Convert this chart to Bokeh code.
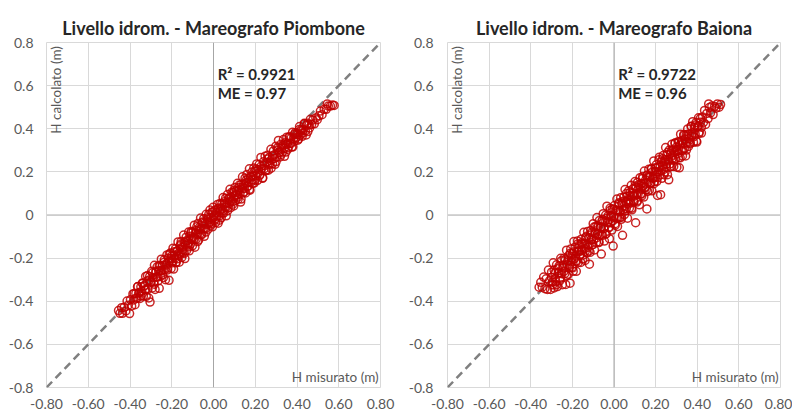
from math import pi
from bokeh.plotting import figure
from bokeh.layouts import row
from bokeh.models import Range1d, FixedTicker, Span, Label
from bokeh.embed import file_html
from bokeh.resources import INLINE

FONT = "Lato"

titles = ["Livello idrom. - Mareografo Piombone", "Livello idrom. - Mareografo Baiona"]
r2_texts = ["R\u00b2 = 0.9921", "R\u00b2 = 0.9722"]
me_texts = ["ME = 0.97", "ME = 0.96"]
x_axis_title = "H misurato (m)"
y_axis_title = "H calcolato (m)"
ticks = [-0.8, -0.6, -0.4, -0.2, 0.0, 0.2, 0.4, 0.6, 0.8]
x_tick_labels = ["-0.80", "-0.60", "-0.40", "-0.20", "0.00", "0.20", "0.40", "0.60", "0.80"]
y_tick_labels = ["-0.8", "-0.6", "-0.4", "-0.2", "0", "0.2", "0.4", "0.6", "0.8"]
identity_line = [-0.8, 0.8]

piombone_x = [
    -0.455, -0.448, -0.440, -0.436, -0.428, -0.420, -0.414, -0.408, -0.402, -0.398,
    -0.392, -0.386, -0.382, -0.376, -0.372, -0.366, -0.362, -0.358, -0.352, -0.348,
    -0.344, -0.340, -0.336, -0.332, -0.328, -0.325, -0.322, -0.318, -0.314, -0.310,
    -0.306, -0.304, -0.300, -0.296, -0.293, -0.290, -0.286, -0.283, -0.280, -0.276,
    -0.273, -0.270, -0.266, -0.263, -0.260, -0.256, -0.253, -0.250, -0.247, -0.244,
    -0.240, -0.236, -0.233, -0.230, -0.226, -0.223, -0.220, -0.216, -0.213, -0.210,
    -0.206, -0.203,
    -0.200, -0.197, -0.194, -0.191, -0.188, -0.185, -0.182, -0.179, -0.176, -0.173,
    -0.170, -0.167, -0.164, -0.161, -0.158, -0.155, -0.152, -0.149, -0.146, -0.143,
    -0.140, -0.137, -0.134, -0.131, -0.128, -0.125, -0.122, -0.119, -0.116, -0.113,
    -0.110, -0.107, -0.104, -0.101, -0.098, -0.095, -0.092, -0.089, -0.086, -0.083,
    -0.080, -0.077, -0.074, -0.071, -0.068, -0.065, -0.062, -0.059, -0.056, -0.053,
    -0.050, -0.047, -0.044, -0.041, -0.038, -0.035, -0.032, -0.029, -0.026, -0.023,
    -0.020, -0.017, -0.014, -0.011, -0.008, -0.005, -0.002, 0.001,
    0.004, 0.007, 0.010, 0.013, 0.016, 0.019, 0.022, 0.025, 0.028, 0.031,
    0.034, 0.037, 0.040, 0.043, 0.046, 0.049, 0.052, 0.055, 0.058, 0.061,
    0.064, 0.067, 0.070, 0.073, 0.076, 0.079, 0.082, 0.085, 0.088, 0.091,
    0.094, 0.097, 0.100, 0.103, 0.106, 0.109, 0.112, 0.115, 0.118, 0.121,
    0.124, 0.127, 0.130, 0.133, 0.136, 0.139, 0.142, 0.145, 0.148, 0.151,
    0.154, 0.157, 0.160, 0.163, 0.166, 0.169, 0.172, 0.175, 0.178, 0.181,
    0.184, 0.187, 0.190, 0.193, 0.196, 0.199,
    0.203, 0.207, 0.211, 0.215, 0.219, 0.223, 0.227, 0.231, 0.235, 0.239,
    0.243, 0.247, 0.251, 0.255, 0.259, 0.263, 0.267, 0.271, 0.275, 0.279,
    0.283, 0.287, 0.291, 0.295, 0.299, 0.303, 0.307, 0.311, 0.315, 0.319,
    0.323, 0.327, 0.331, 0.335, 0.339, 0.343, 0.347, 0.351, 0.355, 0.359,
    0.363, 0.367, 0.371, 0.375, 0.379, 0.383, 0.387, 0.391, 0.395, 0.399,
    0.403, 0.407, 0.411, 0.415, 0.420, 0.425, 0.430, 0.435, 0.440, 0.446,
    0.452, 0.458, 0.464, 0.470, 0.476, 0.483, 0.490, 0.497, 0.505, 0.512,
    0.520, 0.530, 0.540, 0.550, 0.560, 0.570, 0.578, 0.545,
]
piombone_y = [
    -0.443, -0.456, -0.430, -0.456, -0.428, -0.445, -0.399, -0.418, -0.457, -0.393,
    -0.422, -0.366, -0.394, -0.416, -0.364, -0.386, -0.332, -0.363, -0.387, -0.333,
    -0.354, -0.315, -0.376, -0.327, -0.348, -0.285, -0.377, -0.306, -0.344, -0.385,
    -0.286, -0.404, -0.308, -0.261, -0.338, -0.290, -0.311, -0.233, -0.345, -0.261,
    -0.288, -0.240, -0.306, -0.258, -0.340, -0.234, -0.283, -0.205, -0.257, -0.234,
    -0.290, -0.208, -0.253, -0.300, -0.226, -0.185, -0.255, -0.201, -0.303, -0.215,
    -0.176, -0.248,
    -0.190, -0.222, -0.154, -0.251, -0.188, -0.200, -0.157, -0.219, -0.168, -0.203,
    -0.125, -0.177, -0.219, -0.143, -0.178, -0.123, -0.197, -0.149, -0.174, -0.093,
    -0.128, -0.202, -0.139, -0.103, -0.163, -0.119, -0.140, -0.079, -0.166, -0.098,
    -0.135, -0.077, -0.112, -0.143, -0.078, -0.110, -0.047, -0.149, -0.084, -0.113,
    -0.055, -0.089, -0.039, -0.116, -0.058, -0.087, -0.014, -0.064, -0.091, -0.033,
    -0.065, -0.017, -0.099, -0.036, -0.063, 0.003, -0.042, -0.014, -0.066, 0.002,
    -0.038, 0.023, -0.014, -0.041, 0.012, -0.055, 0.036, -0.011,
    -0.026, 0.022, -0.035, 0.013, -0.004, 0.049, -0.038, 0.033, -0.004, 0.053,
    0.024, -0.013, 0.052, 0.018, 0.081, 0.009, 0.052, 0.037, 0.078, -0.004,
    0.056, 0.095, 0.035, 0.078, 0.054, 0.119, 0.034, 0.083, 0.106, 0.061,
    0.104, 0.042, 0.088, 0.128, 0.068, 0.111, 0.092, 0.147, 0.073, 0.116,
    0.139, 0.099, 0.060, 0.141, 0.121, 0.177, 0.102, 0.145, 0.123, 0.171,
    0.102, 0.149, 0.188, 0.131, 0.171, 0.151, 0.214, 0.115, 0.178, 0.153,
    0.199, 0.145, 0.180, 0.218, 0.161, 0.204,
    0.183, 0.237, 0.161, 0.210, 0.234, 0.188, 0.267, 0.216, 0.170, 0.247,
    0.215, 0.272, 0.209, 0.245, 0.277, 0.208, 0.267, 0.241, 0.305, 0.259,
    0.238, 0.297, 0.279, 0.235, 0.319, 0.268, 0.302, 0.346, 0.290, 0.269,
    0.328, 0.309, 0.291, 0.350, 0.309, 0.335, 0.292, 0.361, 0.333, 0.314,
    0.363, 0.332, 0.356, 0.315, 0.384, 0.355, 0.342, 0.381, 0.357, 0.379,
    0.373, 0.352, 0.396, 0.370, 0.395, 0.365, 0.395, 0.425, 0.390, 0.416,
    0.387, 0.418, 0.444, 0.420, 0.441, 0.423, 0.450, 0.442, 0.460, 0.482,
    0.465, 0.490, 0.490, 0.505, 0.505, 0.510, 0.508, 0.515,
]
piombone_core_x = [
    -0.380, -0.372, -0.364, -0.356, -0.348, -0.340, -0.332, -0.324, -0.316, -0.308,
    -0.300, -0.292, -0.284, -0.276, -0.268, -0.260, -0.252, -0.244, -0.236, -0.228,
    -0.220, -0.212, -0.204, -0.196, -0.188, -0.180, -0.172, -0.164, -0.156, -0.148,
    -0.140, -0.132, -0.124, -0.116, -0.108, -0.100, -0.092, -0.084, -0.076, -0.068,
    -0.060, -0.052, -0.044, -0.036, -0.028, -0.020, -0.012, -0.004, 0.004, 0.012,
    0.020, 0.028, 0.036, 0.044, 0.052, 0.060, 0.068, 0.076, 0.084, 0.092,
    0.100, 0.108, 0.116, 0.124, 0.132, 0.140, 0.148, 0.156, 0.164, 0.172,
    0.180, 0.188, 0.196, 0.204, 0.212, 0.220, 0.228, 0.236, 0.244, 0.252,
    0.260, 0.268, 0.276, 0.284, 0.292, 0.300, 0.308, 0.316, 0.324, 0.332,
    0.340, 0.348, 0.356, 0.364, 0.372, 0.380, 0.388, 0.396, 0.404, 0.412,
    0.420, 0.428, 0.436, 0.444, 0.452, 0.460,
]
piombone_core_y = [
    -0.364, -0.386, -0.333, -0.359, -0.376, -0.318, -0.330, -0.345, -0.281, -0.302,
    -0.312, -0.268, -0.321, -0.265, -0.288, -0.234, -0.260, -0.277, -0.219, -0.232,
    -0.246, -0.182, -0.203, -0.213, -0.170, -0.222, -0.166, -0.189, -0.135, -0.162,
    -0.178, -0.120, -0.133, -0.147, -0.084, -0.104, -0.114, -0.071, -0.123, -0.068,
    -0.090, -0.036, -0.063, -0.079, -0.022, -0.034, -0.048, 0.015, -0.005, -0.016,
    0.028, -0.024, 0.031, 0.009, 0.062, 0.036, 0.020, 0.077, 0.065, 0.050,
    0.114, 0.094, 0.083, 0.127, 0.074, 0.130, 0.108, 0.161, 0.135, 0.118,
    0.176, 0.164, 0.149, 0.213, 0.192, 0.182, 0.226, 0.173, 0.229, 0.206,
    0.260, 0.234, 0.217, 0.275, 0.262, 0.248, 0.312, 0.291, 0.281, 0.324,
    0.272, 0.328, 0.305, 0.359, 0.332, 0.316, 0.374, 0.361, 0.347, 0.410,
    0.390, 0.380, 0.423, 0.371, 0.426, 0.404,
]

baiona_x = [
    -0.360, -0.352, -0.345, -0.338, -0.332, -0.326, -0.320, -0.315, -0.310, -0.305,
    -0.300, -0.296, -0.292, -0.288, -0.284, -0.280, -0.276, -0.272, -0.268, -0.264,
    -0.260, -0.256, -0.252, -0.248, -0.244, -0.240, -0.236, -0.232, -0.228, -0.224,
    -0.220, -0.217, -0.214, -0.211, -0.208, -0.205, -0.202, -0.199, -0.196, -0.193,
    -0.190, -0.187, -0.184, -0.181, -0.178, -0.175, -0.172, -0.169, -0.166, -0.163,
    -0.160, -0.157, -0.154, -0.151, -0.148, -0.145, -0.142, -0.139, -0.136, -0.133,
    -0.130, -0.127, -0.124, -0.121, -0.118, -0.115, -0.112, -0.109, -0.106, -0.103,
    -0.100, -0.097, -0.094, -0.091, -0.088, -0.085, -0.082, -0.079, -0.076, -0.073,
    -0.070, -0.067, -0.064, -0.061, -0.058, -0.055, -0.052, -0.049, -0.046, -0.043,
    -0.040, -0.037, -0.034, -0.031, -0.028, -0.025, -0.022, -0.019, -0.016, -0.013,
    -0.010, -0.007, -0.004, -0.001,
    0.002, 0.005, 0.008, 0.011, 0.014, 0.017, 0.020, 0.023, 0.026, 0.029,
    0.032, 0.035, 0.038, 0.041, 0.044, 0.047, 0.050, 0.053, 0.056, 0.059,
    0.062, 0.065, 0.068, 0.071, 0.074, 0.077, 0.080, 0.083, 0.086, 0.089,
    0.092, 0.095, 0.098, 0.101, 0.104, 0.107, 0.110, 0.113, 0.116, 0.119,
    0.122, 0.125, 0.128, 0.131, 0.134, 0.137, 0.140, 0.143, 0.146, 0.149,
    0.152, 0.155, 0.158, 0.161, 0.164, 0.167, 0.170, 0.173, 0.176, 0.179,
    0.182, 0.185, 0.188, 0.191, 0.194, 0.197, 0.200,
    0.203, 0.206, 0.209, 0.212, 0.215, 0.218, 0.221, 0.224, 0.227, 0.230,
    0.233, 0.236, 0.239, 0.242, 0.245, 0.248, 0.251, 0.254, 0.257, 0.260,
    0.263, 0.266, 0.269, 0.272, 0.275, 0.278, 0.281, 0.284, 0.287, 0.290,
    0.293, 0.296, 0.299, 0.302, 0.305, 0.308, 0.311, 0.314, 0.317, 0.320,
    0.323, 0.326, 0.329, 0.332, 0.335, 0.338, 0.341, 0.344, 0.347, 0.350,
    0.354, 0.358,
    0.362, 0.366, 0.370, 0.374, 0.378, 0.382, 0.386, 0.390, 0.394, 0.398,
    0.402, 0.406, 0.410, 0.415, 0.420, 0.425, 0.430, 0.435, 0.440, 0.446,
    0.452, 0.458, 0.464, 0.470, 0.476, 0.483, 0.490, 0.497, 0.505, 0.512,
    0.455,
]
baiona_y = [
    -0.335, -0.312, -0.335, -0.288, -0.342, -0.296, -0.345, -0.255, -0.305, -0.345,
    -0.265, -0.311, -0.222, -0.338, -0.269, -0.310, -0.231, -0.332, -0.268, -0.236,
    -0.305, -0.201, -0.272, -0.323, -0.232, -0.200, -0.271, -0.322, -0.163, -0.229,
    -0.275, -0.187, -0.234, -0.316, -0.158, -0.200, -0.242, -0.177, -0.261, -0.123,
    -0.202, -0.149, -0.214, -0.261, -0.168, -0.120, -0.220, -0.169, -0.138, -0.185,
    -0.220, -0.112, -0.162, -0.133, -0.186, -0.080, -0.157, -0.211, -0.104, -0.131,
    -0.175, -0.077, -0.149, -0.106, -0.228, -0.173, -0.072, -0.114, -0.081, -0.138,
    -0.040, -0.115, -0.162, -0.081, -0.053, -0.127, -0.012, -0.089, -0.056, -0.128,
    -0.025, -0.095, -0.059, -0.181, -0.028, -0.095, 0.006, -0.064, -0.121, -0.028,
    0.000, -0.087, 0.041, -0.033, -0.003, -0.057, -0.110, 0.031, -0.036, -0.003,
    -0.070, 0.028, -0.144, -0.009,
    0.044, -0.040, 0.020, -0.014, 0.074, -0.053, 0.020, 0.051, -0.012, 0.017,
    0.080, -0.020, 0.056, -0.094, 0.024, 0.082, 0.002, 0.118, 0.061, 0.029,
    0.087, -0.015, 0.060, 0.113, 0.032, 0.089, 0.058, 0.138, 0.024, 0.089,
    0.122, 0.060, 0.088, 0.155, -0.036, 0.127, 0.060, 0.151, 0.098, 0.127,
    0.047, 0.173, 0.098, 0.146, 0.089, 0.169, 0.135, 0.083, 0.204, 0.127,
    0.162, 0.117, 0.028, 0.186, 0.152, 0.212, 0.115, 0.175, 0.148, 0.214,
    0.112, 0.200, 0.170, 0.251, 0.154, 0.202, 0.175,
    0.233, 0.156, 0.091, 0.222, 0.200, 0.268, 0.186, 0.094, 0.247, 0.170,
    0.228, 0.276, 0.211, 0.250, 0.200, 0.313, 0.236, 0.279, 0.187, 0.258,
    0.163, 0.301, 0.237, 0.284, 0.225, 0.328, 0.263, 0.304, 0.225, 0.290,
    0.333, 0.261, 0.314, 0.222, 0.295, 0.340, 0.266, 0.219, 0.325, 0.375,
    0.298, 0.346, 0.274, 0.332, 0.373, 0.308, 0.353, 0.274, 0.372, 0.335,
    0.399, 0.318,
    0.372, 0.336, 0.410, 0.364, 0.433, 0.337, 0.406, 0.375, 0.429, 0.338,
    0.407, 0.451, 0.385, 0.430, 0.380, 0.455, 0.430, 0.485, 0.420, 0.471,
    0.447, 0.498, 0.474, 0.505, 0.466, 0.503, 0.495, 0.515, 0.500, 0.512,
    0.515,
]
baiona_core_x = [
    -0.300, -0.294, -0.288, -0.282, -0.276, -0.270, -0.264, -0.258, -0.252, -0.246,
    -0.240, -0.234, -0.228, -0.222, -0.216, -0.210, -0.204, -0.198, -0.192, -0.186,
    -0.180, -0.174, -0.168, -0.162, -0.156, -0.150, -0.144, -0.138, -0.132, -0.126,
    -0.120, -0.114, -0.108, -0.102, -0.096, -0.090, -0.084, -0.078, -0.072, -0.066,
    -0.060, -0.054, -0.048, -0.042, -0.036, -0.030, -0.024, -0.018, -0.012, -0.006,
    0.000, 0.006, 0.012, 0.018, 0.024, 0.030, 0.036, 0.042, 0.048, 0.054,
    0.060, 0.066, 0.072, 0.078, 0.084, 0.090, 0.096, 0.102, 0.108, 0.114,
    0.120, 0.126, 0.132, 0.138, 0.144, 0.150, 0.156, 0.162, 0.168, 0.174,
    0.180, 0.186, 0.192, 0.198, 0.204, 0.210, 0.216, 0.222, 0.228, 0.234,
    0.240, 0.246, 0.252, 0.258, 0.264, 0.270, 0.276, 0.282, 0.288, 0.294,
    0.300, 0.306, 0.312, 0.318, 0.324, 0.330, 0.336, 0.342, 0.348, 0.354,
    0.360, 0.366, 0.372, 0.378, 0.384, 0.390, 0.396, 0.402, 0.408, 0.414,
    0.420,
]
baiona_core_y = [
    -0.290, -0.324, -0.255, -0.295, -0.323, -0.249, -0.269, -0.293, -0.212, -0.243,
    -0.261, -0.207, -0.281, -0.212, -0.246, -0.177, -0.217, -0.245, -0.171, -0.191,
    -0.215, -0.134, -0.165, -0.183, -0.129, -0.203, -0.134, -0.168, -0.099, -0.139,
    -0.167, -0.093, -0.113, -0.137, -0.056, -0.087, -0.105, -0.051, -0.125, -0.056,
    -0.090, -0.021, -0.061, -0.089, -0.015, -0.035, -0.059, 0.022, -0.009, -0.027,
    0.027, -0.047, 0.022, -0.012, 0.057, 0.017, -0.011, 0.063, 0.043, 0.019,
    0.100, 0.069, 0.051, 0.105, 0.031, 0.100, 0.066, 0.135, 0.095, 0.067,
    0.141, 0.121, 0.097, 0.178, 0.147, 0.129, 0.183, 0.109, 0.178, 0.144,
    0.213, 0.173, 0.145, 0.219, 0.199, 0.175, 0.256, 0.225, 0.207, 0.261,
    0.187, 0.256, 0.222, 0.291, 0.251, 0.223, 0.297, 0.277, 0.253, 0.334,
    0.303, 0.285, 0.339, 0.265, 0.334, 0.300, 0.369, 0.329, 0.301, 0.375,
    0.355, 0.331, 0.412, 0.381, 0.363, 0.417, 0.343, 0.412, 0.378, 0.447,
    0.407,
]


def make_panel(title, series, r2, me, width, border_left, border_right, label_standoff):
    p = figure(width=width, height=412,
               x_range=Range1d(-0.8, 0.8), y_range=Range1d(-0.8, 0.8),
               output_backend="svg", toolbar_location=None, title=title,
               min_border_left=border_left, min_border_right=border_right,
               min_border_top=42, min_border_bottom=25)
    p.title.align = "center"
    p.title.text_font = FONT
    p.title.text_font_size = "18px"
    p.title.text_font_style = "bold"
    p.title.text_color = "#262626"
    p.title.standoff = 8
    p.outline_line_color = "#d9d9d9"
    p.background_fill_color = "white"
    p.border_fill_color = "white"

    for ax, labels, standoff in ((p.xaxis[0], x_tick_labels, 11),
                                 (p.yaxis[0], y_tick_labels, label_standoff)):
        ax.ticker = FixedTicker(ticks=ticks)
        ax.major_label_overrides = dict(zip(ticks, labels))
        ax.axis_line_color = None
        ax.major_tick_line_color = None
        ax.minor_tick_line_color = None
        ax.major_tick_out = 0
        ax.major_tick_in = 0
        ax.major_label_standoff = standoff
        ax.major_label_text_font = FONT
        ax.major_label_text_font_size = "14px"
        ax.major_label_text_color = "#595959"

    p.xgrid.grid_line_color = "#d9d9d9"
    p.ygrid.grid_line_color = "#d9d9d9"

    p.add_layout(Span(location=0, dimension="height", line_color="#a6a6a6",
                      line_width=1, level="underlay"))
    p.add_layout(Span(location=0, dimension="width", line_color="#c8c8c8",
                      line_width=1.5, level="underlay"))

    p.line(identity_line, identity_line, line_color="#808080", line_width=2.5,
           line_dash="8 5")
    for xs, ys in series:
        p.scatter(xs, ys, marker="circle", size=8, fill_color=None,
                  line_color="#c00000", line_alpha=0.85, line_width=1.5)

    p.add_layout(Label(x=0.02, y=0.654, text=r2, text_font=FONT,
                       text_font_size="15px", text_font_style="bold",
                       text_color="#262626", text_baseline="middle"))
    p.add_layout(Label(x=0.02, y=0.566, text=me, text_font=FONT,
                       text_font_size="15px", text_font_style="bold",
                       text_color="#262626", text_baseline="middle"))
    p.add_layout(Label(x=-0.753, y=0.58, text=y_axis_title, angle=pi / 2,
                       text_font=FONT, text_font_size="13.5px",
                       text_color="#595959", text_align="center",
                       text_baseline="middle"))
    p.add_layout(Label(x=0.791, y=-0.751, text=x_axis_title,
                       text_font=FONT, text_font_size="13.5px",
                       text_color="#595959", text_align="right",
                       text_baseline="middle"))
    return p


p1 = make_panel(titles[0], [(piombone_x, piombone_y), (piombone_core_x, piombone_core_y)],
                r2_texts[0], me_texts[0], 400, 46, 20, 13)
p2 = make_panel(titles[1], [(baiona_x, baiona_y), (baiona_core_x, baiona_core_y)],
                r2_texts[1], me_texts[1], 392, 47, 12, 14)

layout = row(p1, p2)
open("out.html", "w").write(file_html(layout, INLINE))
